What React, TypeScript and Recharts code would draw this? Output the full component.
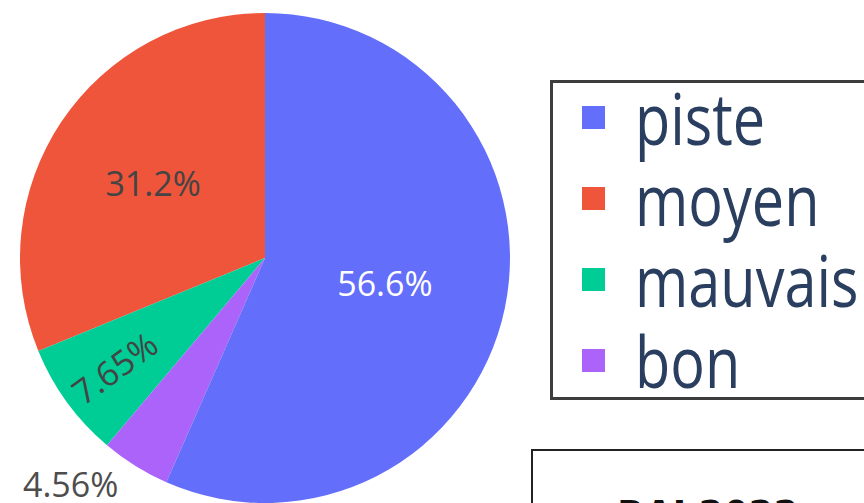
import { PieChart, Pie, Cell, Legend } from 'recharts';

const categories = ['moyen', 'mauvais', 'bon', 'piste'];
const values = [31.2, 7.65, 4.56, 56.6];
const colors = ['#EF553B', '#00CC96', '#AB63FA', '#636EFA'];
const legendOrder = ['piste', 'moyen', 'mauvais', 'bon'];
const boxTitle = 'RAI 2022';

const data = categories.map((name, i) => ({ name, value: values[i], fill: colors[i] }));

const RAD = Math.PI / 180;
const FONT = "'Open Sans', 'Noto Sans', sans-serif";

function renderLabel(props: any) {
  const { cx, cy, midAngle, outerRadius, percent, name } = props;
  const text = (percent * 100).toPrecision(3) + '%';
  const at = (f: number) => ({
    x: cx + outerRadius * f * Math.cos(-midAngle * RAD),
    y: cy + outerRadius * f * Math.sin(-midAngle * RAD),
  });

  if (name === 'bon') {
    const p = at(1);
    return (
      <text x={p.x - 17} y={p.y + 31} textAnchor="end" fill="#4d4d4d" fontSize={34} fontFamily={FONT}>
        {text}
      </text>
    );
  }
  if (name === 'mauvais') {
    const p = at(0.76);
    return (
      <text
        x={p.x}
        y={p.y}
        textAnchor="middle"
        dominantBaseline="central"
        fill="#444"
        fontSize={34}
        fontFamily={FONT}
        transform={`rotate(${180 - midAngle} ${p.x} ${p.y})`}
      >
        {text}
      </text>
    );
  }
  const p = at(name === 'piste' ? 0.5 : 0.55);
  return (
    <text
      x={p.x}
      y={p.y}
      textAnchor="middle"
      dominantBaseline="central"
      fill={name === 'piste' ? '#ffffff' : '#444'}
      fontSize={34}
      fontFamily={FONT}
    >
      {text}
    </text>
  );
}

function LegendBox(props: any) {
  const payload = props.payload || [];
  const items = legendOrder.map((n) => payload.find((p: any) => p.value === n)).filter(Boolean);
  return (
    <div
      style={{
        border: '3px solid #3d3d3d',
        width: 340,
        height: 314,
        boxSizing: 'content-box',
        background: '#fff',
        overflow: 'hidden',
      }}
    >
      <div style={{ marginTop: -6 }}>
        {items.map((it: any) => (
          <div key={it.value} style={{ display: 'flex', alignItems: 'center', height: 81, width: 600 }}>
            <div style={{ width: 23, height: 23, flexShrink: 0, marginLeft: 29, background: it.color }} />
            <span
              style={{
                display: 'inline-block',
                flexShrink: 0,
                marginLeft: 30,
                fontFamily: FONT,
                fontSize: 72,
                lineHeight: '81px',
                color: '#2a3f5f',
                transform: 'scaleX(0.8)',
                transformOrigin: 'left center',
                whiteSpace: 'nowrap',
              }}
            >
              {it.value}
            </span>
          </div>
        ))}
      </div>
    </div>
  );
}

export default function App() {
  return (
    <div
      style={{
        position: 'absolute',
        left: 0,
        top: 0,
        width: 864,
        height: 503,
        overflow: 'hidden',
        background: '#fff',
      }}
    >
      <PieChart width={864} height={503} margin={{ top: 0, right: 0, bottom: 0, left: 0 }}>
        <Pie
          data={data}
          dataKey="value"
          nameKey="name"
          cx={265}
          cy={258}
          outerRadius={245}
          startAngle={90}
          endAngle={450}
          stroke="none"
          label={renderLabel}
          labelLine={false}
          isAnimationActive={false}
        >
          {data.map((d) => (
            <Cell key={d.name} fill={d.fill} />
          ))}
        </Pie>
        <Legend
          content={<LegendBox />}
          wrapperStyle={{ position: 'absolute', left: 550, top: 80, width: 'auto' }}
        />
      </PieChart>
      <div
        style={{
          position: 'absolute',
          left: 531,
          top: 449,
          width: 400,
          height: 120,
          border: '2px solid #222',
          background: '#fff',
        }}
      >
        <div
          style={{
            position: 'absolute',
            left: 0,
            width: 350,
            top: 42,
            textAlign: 'center',
            fontFamily: "'Liberation Sans Narrow', 'DejaVu Sans Condensed', sans-serif",
            fontWeight: 'bold',
            fontSize: 40,
            color: '#111',
          }}
        >
          {boxTitle}
        </div>
      </div>
    </div>
  );
}
